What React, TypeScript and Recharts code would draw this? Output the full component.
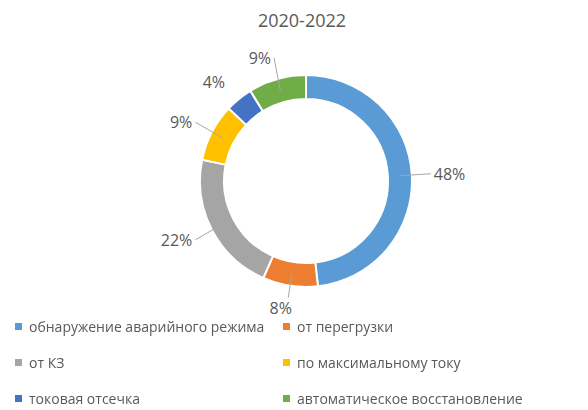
import React from 'react';
import { PieChart, Pie, Cell, Legend } from 'recharts';

const title = '2020-2022';
const categories = [
  'обнаружение аварийного режима',
  'от перегрузки',
  'от КЗ',
  'по максимальному току',
  'токовая отсечка',
  'автоматическое восстановление',
];
const values = [48.2, 8.4, 21.6, 8.8, 4.2, 8.8];
const COLORS = ['#5B9BD5', '#ED7D31', '#A5A5A5', '#FFC000', '#4472C4', '#70AD47'];

const data = categories.map((name, i) => ({ name, value: values[i] }));

const FONT = '"Open Sans", "Noto Sans", sans-serif';
const TEXT = '#595959';
const RAD = Math.PI / 180;

const renderLabel = (props: any) => {
  const { cx, cy, midAngle, innerRadius, outerRadius, percent } = props;
  const cos = Math.cos(-midAngle * RAD);
  const sin = Math.sin(-midAngle * RAD);
  const rMid = (innerRadius + outerRadius) / 2;
  const sx = cx + rMid * cos;
  const sy = cy + rMid * sin;
  const rL = outerRadius + 22;
  const px = cx + rL * cos;
  const py = cy + rL * sin;
  const text = `${Math.round(percent * 100)}%`;
  const showLine = percent >= 0.05;
  if (Math.abs(cos) < 0.2) {
    const down = sin > 0;
    const lx = cx + (outerRadius + 12) * cos;
    const ly = cy + (outerRadius + 12) * sin;
    return (
      <g>
        {showLine && <path d={`M${sx},${sy}L${lx},${ly}`} stroke="#A6A6A6" fill="none" strokeWidth={1} />}
        <text
          x={px - 6}
          y={down ? py + 6 : py - 6}
          textAnchor="middle"
          fill={TEXT}
          fontSize={16}
          fontFamily={FONT}
        >
          {text}
        </text>
      </g>
    );
  }
  const dir = cos >= 0 ? 1 : -1;
  return (
    <g>
      {showLine && (
        <path d={`M${sx},${sy}L${px - dir * 3},${py}`} stroke="#A6A6A6" fill="none" strokeWidth={1} />
      )}
      <text
        x={px}
        y={py}
        dy={6}
        textAnchor={dir > 0 ? 'start' : 'end'}
        fill={TEXT}
        fontSize={16}
        fontFamily={FONT}
      >
        {text}
      </text>
    </g>
  );
};

const LegendItem = ({ i, minWidth }: { i: number; minWidth?: number }) => (
  <div style={{ display: 'flex', alignItems: 'center', minWidth: minWidth, paddingRight: 3 }}>
    <span style={{ width: 7, height: 7, background: COLORS[i], display: 'inline-block', marginRight: 7 }} />
    <span>{categories[i]}</span>
  </div>
);

const renderLegend = () => {
  const rows = [[0, 1], [2, 3], [4, 5]];
  return (
    <div style={{ fontFamily: FONT, fontSize: 14, color: TEXT, paddingLeft: 15 }}>
      {rows.map((r, k) => (
        <div key={k} style={{ display: 'flex', height: 36, alignItems: 'center', whiteSpace: 'nowrap' }}>
          <LegendItem i={r[0]} minWidth={265} />
          <LegendItem i={r[1]} />
        </div>
      ))}
    </div>
  );
};

export default function App() {
  return (
    <div style={{ position: 'fixed', left: 0, top: 0, width: 588, height: 410, background: '#fff' }}>
      <div
        style={{
          position: 'absolute',
          left: 0,
          top: 7,
          width: 604,
          textAlign: 'center',
          fontFamily: FONT,
          fontSize: 18,
          lineHeight: '26px',
          color: TEXT,
        }}
      >
        {title}
      </div>
      <PieChart width={588} height={410} style={{ position: 'absolute', left: 0, top: 0 }}>
        <Pie
          data={data}
          dataKey="value"
          nameKey="name"
          cx={301}
          cy={176}
          innerRadius={82}
          outerRadius={106}
          startAngle={90}
          endAngle={-270}
          stroke="#ffffff"
          strokeWidth={2}
          label={renderLabel}
          labelLine={false}
          isAnimationActive={false}
        >
          {data.map((d, i) => (
            <Cell key={d.name} fill={COLORS[i]} />
          ))}
        </Pie>
        <Legend
          content={renderLegend}
          wrapperStyle={{ position: 'absolute', left: 0, top: 308, width: 588, bottom: 'auto' }}
        />
      </PieChart>
    </div>
  );
}
